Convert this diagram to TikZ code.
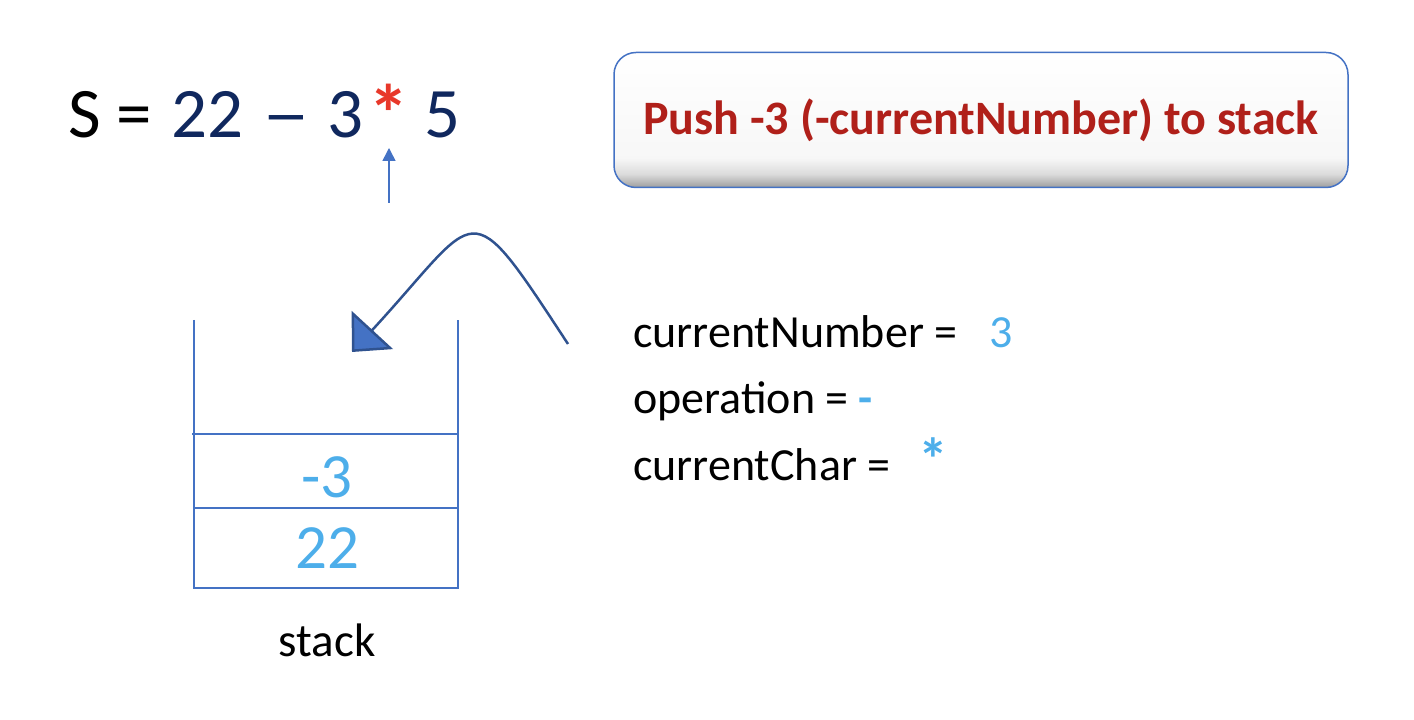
\documentclass[tikz,border=0pt]{standalone}
\usepackage{fontspec}
\setmainfont{Carlito}
\usetikzlibrary{positioning,arrows.meta}
\definecolor{navy}{RGB}{16,40,94}
\definecolor{starred}{RGB}{232,56,42}
\definecolor{pushred}{RGB}{176,32,26}
\definecolor{valblue}{RGB}{77,174,234}
\definecolor{stackblue}{RGB}{68,114,196}
\definecolor{curveblue}{RGB}{47,82,143}
\pgfdeclareverticalshading{btnshade}{100bp}{color(0bp)=(black!38); color(25bp)=(black!38);
  color(30bp)=(black!14); color(36bp)=(black!3); color(75bp)=(white); color(100bp)=(white)}

\begin{document}
\begin{tikzpicture}[x=1pt,y=1pt,
  stackline/.style={stackblue,line width=2.8pt},
  stackval/.style={text=valblue,inner sep=0pt,font=\fontsize{63}{70}\selectfont},
  varline/.style={anchor=base west,inner sep=0pt,font=\fontsize{46}{52}\selectfont},
  btn/.style={draw=stackblue,line width=1.5pt,rounded corners=22pt,shading=btnshade,
    minimum width=734pt,minimum height=135pt,text=pushred,font=\fontsize{48}{56}\selectfont\bfseries}]
\useasboundingbox (0,0) rectangle (1414,720);

% expression and pointer
\node[anchor=base west,inner sep=0pt,font=\fontsize{71}{80}\selectfont] (expr) at (68,582)
  {S = \hspace{0.05em}{\color{navy}22\hspace{0.26em}\scalebox{1.35}[1]{–}\hspace{0.24em}3}\hspace{0.07em}{\color{starred}\bfseries\raisebox{-0.06em}{\scalebox{1.15}{*}}}\hspace{0.23em}{\color{navy}5}};
\coordinate (ptrfoot) at (389,517);
\coordinate (ptrtip) at (389,572);
\draw[stackblue,line width=1.5pt,-{Triangle[length=13pt,width=13pt]}] (ptrfoot) -- (ptrtip);

% message box
\node[btn] (msg) at (981,600) {Push -3 (-currentNumber) to stack};

% stack
\coordinate (sTL) at (194,400);
\coordinate (sBL) at (194,132);
\coordinate (sBR) at (458,132);
\coordinate (sTR) at (458,400);
\draw[stackline] (sTL) -- (sBL) -- (sBR) -- (sTR);
\draw[stackline] (192,286) -- (458,286);
\draw[stackline] (194,212) -- (458,212);
\node[stackval] (top) at (327,243) {-3};
\node[stackval] (bottom) at (327,172) {22};
\node[anchor=base,inner sep=0pt,font=\fontsize{47}{54}\selectfont] (stacklbl) at (327,63) {stack};

% push arrow
\coordinate (from) at (568,376);
\coordinate (to) at (352,368);
\draw[curveblue,line width=2.5pt,-{Triangle[length=30pt,width=56pt,fill=stackblue]}]
  (from) .. controls (465,533) and (482,509) .. (to);

% variables
\node[varline] (num) at (633,372) {currentNumber =\hspace{0.7em}{\color{valblue}3}};
\node[varline] (op) at (633,306) {operation = {\color{valblue}\bfseries -}};
\node[varline] (chr) at (633,239) {currentChar =\hspace{0.6em}{\color{valblue}\bfseries\scalebox{1.3}{*}}};
\end{tikzpicture}
\end{document}
